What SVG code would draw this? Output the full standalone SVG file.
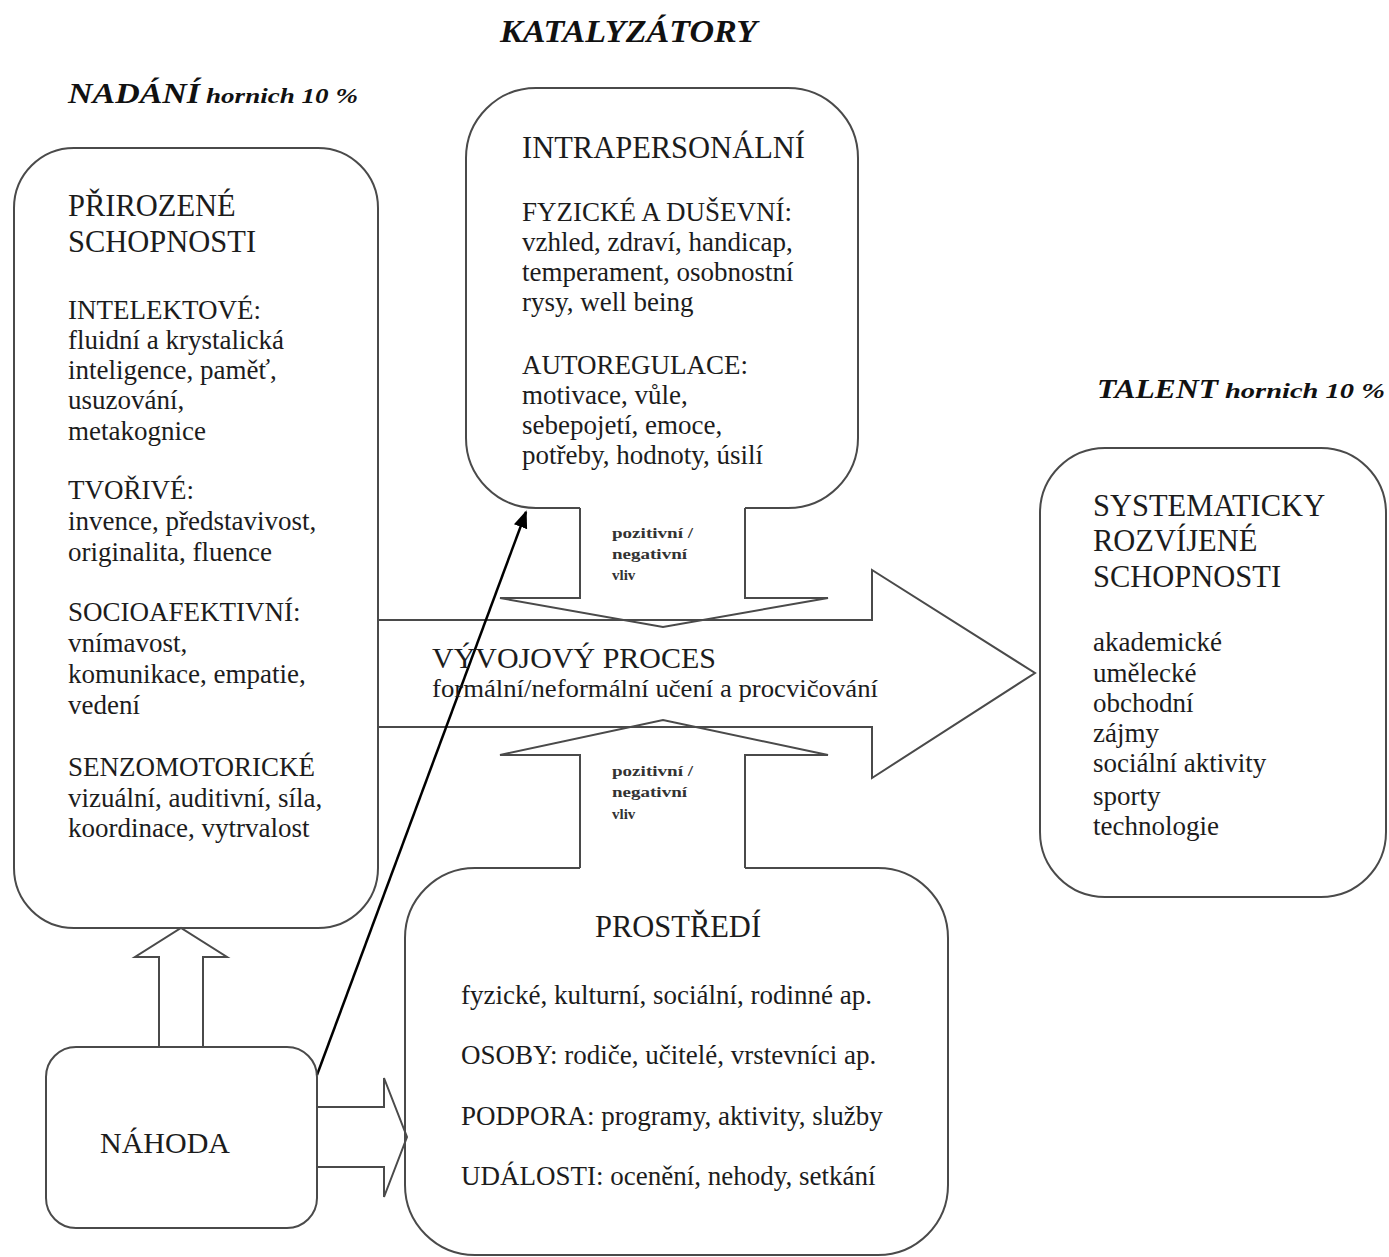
<svg xmlns="http://www.w3.org/2000/svg" width="1389" height="1257" viewBox="0 0 1389 1257">
<defs>
<style>
.box{fill:none;stroke:#4a4a4a;stroke-width:2}
.arr{fill:none;stroke:#4a4a4a;stroke-width:2;stroke-linejoin:miter}
.t{font-family:"Liberation Serif","Times New Roman",serif;fill:#1c1c1c}
.h{font-size:30.5px}
.s{font-size:27px}
.b{font-size:27px}
.title{font-family:"Liberation Serif","Times New Roman",serif;font-weight:bold;font-style:italic;fill:#111}
.lab{font-family:"Liberation Serif","Times New Roman",serif;font-size:15px;font-weight:bold;fill:#333}
</style>
<marker id="ah" viewBox="0 0 10 10" refX="9" refY="5" markerWidth="7" markerHeight="7" orient="auto" markerUnits="strokeWidth">
<path d="M0,1 L10,5 L0,9 z" fill="#000"/>
</marker>
</defs>

<g id="titles">
<text class="title" x="500" y="42" font-size="32" textLength="257" lengthAdjust="spacingAndGlyphs">KATALYZÁTORY</text>
<text class="title" x="68" y="103" font-size="30" textLength="132" lengthAdjust="spacingAndGlyphs">NADÁNÍ</text>
<text class="title" x="206" y="103" font-size="22" textLength="152" lengthAdjust="spacingAndGlyphs">hornich 10 %</text>
<text class="title" x="1097" y="398" font-size="28" textLength="121" lengthAdjust="spacingAndGlyphs">TALENT</text>
<text class="title" x="1225" y="398" font-size="22" textLength="160" lengthAdjust="spacingAndGlyphs">hornich 10 %</text>
</g>

<g id="connectors">
<path class="arr" d="M378,620 H872 V570 L1035,673 L872,778 V727 H378"/>
<path class="arr" d="M580,508 V598 H500 L663,627 L828,598 H745 V508"/>
<path class="arr" d="M580,868 V755 H500 L663,720 L828,755 H745 V868"/>
<path class="arr" d="M159,1047 V957 H135 L181,928 L227,957 H203 V1047"/>
<path class="arr" d="M317,1107 H384 V1078 L407,1137 L384,1197 V1167 H317"/>
<line x1="317" y1="1075" x2="526" y2="512" stroke="#000" stroke-width="2.5" marker-end="url(#ah)"/>
<text class="t" x="432" y="668" font-size="29" textLength="284" lengthAdjust="spacingAndGlyphs">VÝVOJOVÝ PROCES</text>
<text class="t" x="432" y="697" font-size="26" textLength="446" lengthAdjust="spacingAndGlyphs">formální/neformální učení a procvičování</text>
<text class="lab" x="612" y="538" textLength="81" lengthAdjust="spacingAndGlyphs">pozitivní /</text>
<text class="lab" x="612" y="559" textLength="75" lengthAdjust="spacingAndGlyphs">negativní</text>
<text class="lab" x="612" y="580">vliv</text>
<text class="lab" x="612" y="776" textLength="81" lengthAdjust="spacingAndGlyphs">pozitivní /</text>
<text class="lab" x="612" y="797" textLength="75" lengthAdjust="spacingAndGlyphs">negativní</text>
<text class="lab" x="612" y="819">vliv</text>
</g>

<g id="prirozene">
<rect class="box" x="14" y="148" width="364" height="780" rx="60"/>
<text class="t h" x="68" y="216">PŘIROZENÉ</text>
<text class="t h" x="68" y="252">SCHOPNOSTI</text>
<text class="t s" x="68" y="319">INTELEKTOVÉ:</text>
<text class="t b" x="68" y="349">fluidní a krystalická</text>
<text class="t b" x="68" y="379">inteligence, paměť,</text>
<text class="t b" x="68" y="409">usuzování,</text>
<text class="t b" x="68" y="440">metakognice</text>
<text class="t s" x="68" y="499">TVOŘIVÉ:</text>
<text class="t b" x="68" y="530">invence, představivost,</text>
<text class="t b" x="68" y="561">originalita, fluence</text>
<text class="t s" x="68" y="621">SOCIOAFEKTIVNÍ:</text>
<text class="t b" x="68" y="652">vnímavost,</text>
<text class="t b" x="68" y="683">komunikace, empatie,</text>
<text class="t b" x="68" y="714">vedení</text>
<text class="t s" x="68" y="776">SENZOMOTORICKÉ</text>
<text class="t b" x="68" y="807">vizuální, auditivní, síla,</text>
<text class="t b" x="68" y="837">koordinace, vytrvalost</text>
</g>

<g id="intrapersonalni">
<path class="box" d="M580,508 H536 A70,70 0 0 1 466,438 V158 A70,70 0 0 1 536,88 H788 A70,70 0 0 1 858,158 V438 A70,70 0 0 1 788,508 H745"/>
<text class="t h" x="522" y="158">INTRAPERSONÁLNÍ</text>
<text class="t s" x="522" y="221">FYZICKÉ A DUŠEVNÍ:</text>
<text class="t b" x="522" y="251">vzhled, zdraví, handicap,</text>
<text class="t b" x="522" y="281">temperament, osobnostní</text>
<text class="t b" x="522" y="311">rysy, well being</text>
<text class="t s" x="522" y="374">AUTOREGULACE:</text>
<text class="t b" x="522" y="404">motivace, vůle,</text>
<text class="t b" x="522" y="434">sebepojetí, emoce,</text>
<text class="t b" x="522" y="464">potřeby, hodnoty, úsilí</text>
</g>

<g id="talent">
<rect class="box" x="1040" y="448" width="346" height="449" rx="65"/>
<text class="t h" x="1093" y="516">SYSTEMATICKY</text>
<text class="t h" x="1093" y="551">ROZVÍJENÉ</text>
<text class="t h" x="1093" y="587">SCHOPNOSTI</text>
<text class="t b" x="1093" y="651">akademické</text>
<text class="t b" x="1093" y="682">umělecké</text>
<text class="t b" x="1093" y="712">obchodní</text>
<text class="t b" x="1093" y="742">zájmy</text>
<text class="t b" x="1093" y="772">sociální aktivity</text>
<text class="t b" x="1093" y="805">sporty</text>
<text class="t b" x="1093" y="835">technologie</text>
</g>

<g id="prostredi">
<path class="box" d="M745,868 H878 A70,70 0 0 1 948,938 V1185 A70,70 0 0 1 878,1255 H475 A70,70 0 0 1 405,1185 V938 A70,70 0 0 1 475,868 H580"/>
<text class="t h" x="678" y="937" text-anchor="middle">PROSTŘEDÍ</text>
<text class="t b" x="461" y="1004">fyzické, kulturní, sociální, rodinné ap.</text>
<text class="t b" x="461" y="1064">OSOBY: rodiče, učitelé, vrstevníci ap.</text>
<text class="t b" x="461" y="1125">PODPORA: programy, aktivity, služby</text>
<text class="t b" x="461" y="1185">UDÁLOSTI: ocenění, nehody, setkání</text>
</g>

<g id="nahoda">
<rect class="box" x="46" y="1047" width="271" height="181" rx="30"/>
<text class="t" x="100" y="1153" font-size="30">NÁHODA</text>
</g>
</svg>
